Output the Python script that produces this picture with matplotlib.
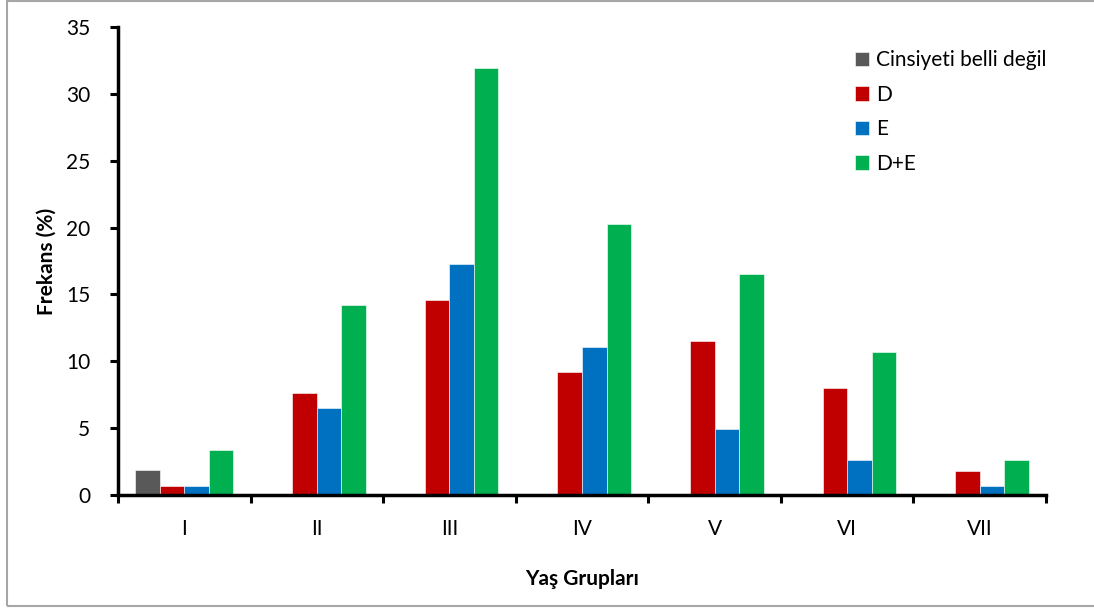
import numpy as np
import matplotlib
matplotlib.use("Agg")
import matplotlib.pyplot as plt
from matplotlib.patches import Rectangle

plt.rcParams['font.family'] = ['Lato', 'DejaVu Sans']

# ---- data ----
groups = ["I", "II", "III", "IV", "V", "VI", "VII"]
series_names = ["Cinsiyeti belli değil", "D", "E", "D+E"]
belirsiz = [1.9, 0, 0, 0, 0, 0, 0]
d_vals = [0.7, 7.6, 14.6, 9.2, 11.5, 8.0, 1.8]
e_vals = [0.7, 6.5, 17.3, 11.1, 4.9, 2.6, 0.7]
de_vals = [3.4, 14.2, 31.9, 20.3, 16.5, 10.7, 2.6]
colors = ["#595959", "#C00000", "#0070C0", "#00B050"]

fs = 15

fig = plt.figure(figsize=(10.94, 6.08), dpi=100)
ax = fig.add_axes([118 / 1094, 1 - 495 / 608, (1046 - 118) / 1094, (495 - 27) / 608])

x = np.arange(len(groups))
w = 0.185
for i, (vals, name, c) in enumerate(zip([belirsiz, d_vals, e_vals, de_vals], series_names, colors)):
    ax.bar(x + (i - 1.5) * w, vals, width=w, color=c, edgecolor="white",
           linewidth=0.4, label=name, zorder=2)

ax.set_xlim(-0.5, len(groups) - 0.5)
ax.set_ylim(0, 35)
ax.set_yticks(range(0, 36, 5))

# ticks at category boundaries, labels at centres
ax.set_xticks(np.arange(-0.5, len(groups), 1.0))
ax.set_xticklabels([])
ax.set_xticks(x, minor=True)
ax.set_xticklabels(groups, minor=True)
ax.tick_params(axis="x", which="major", direction="out", length=6, width=2.2, color="black")
ax.tick_params(axis="x", which="minor", length=0, pad=17, labelsize=fs)
ax.tick_params(axis="y", direction="out", length=6, width=2.2, pad=14, labelsize=fs)

for s in ["top", "right"]:
    ax.spines[s].set_visible(False)
for s in ["left", "bottom"]:
    ax.spines[s].set_linewidth(2.5)
    ax.spines[s].set_zorder(3)

ax.set_ylabel("Frekans (%)", fontsize=fs, fontweight="bold")
ax.set_xlabel("Yaş Grupları", fontsize=fs, fontweight="bold")
ax.yaxis.set_label_coords(-61 / 928, 0.5)
ax.xaxis.set_label_coords(0.5, -74 / 468)

ax.legend(loc="upper left", bbox_to_anchor=(0.785, 0.968), frameon=False, fontsize=fs,
          handlelength=0.7, handleheight=0.7, handletextpad=0.3, labelspacing=0.7,
          borderaxespad=0)

# light grey frame around the whole chart
fig.patches.append(Rectangle((7 / 1094, 2 / 608), 1.1, 1 - 3 / 608, transform=fig.transFigure,
                             fill=False, edgecolor="#a6a6a6", linewidth=1.5, clip_on=False))

fig.savefig("out.png", dpi=100)
